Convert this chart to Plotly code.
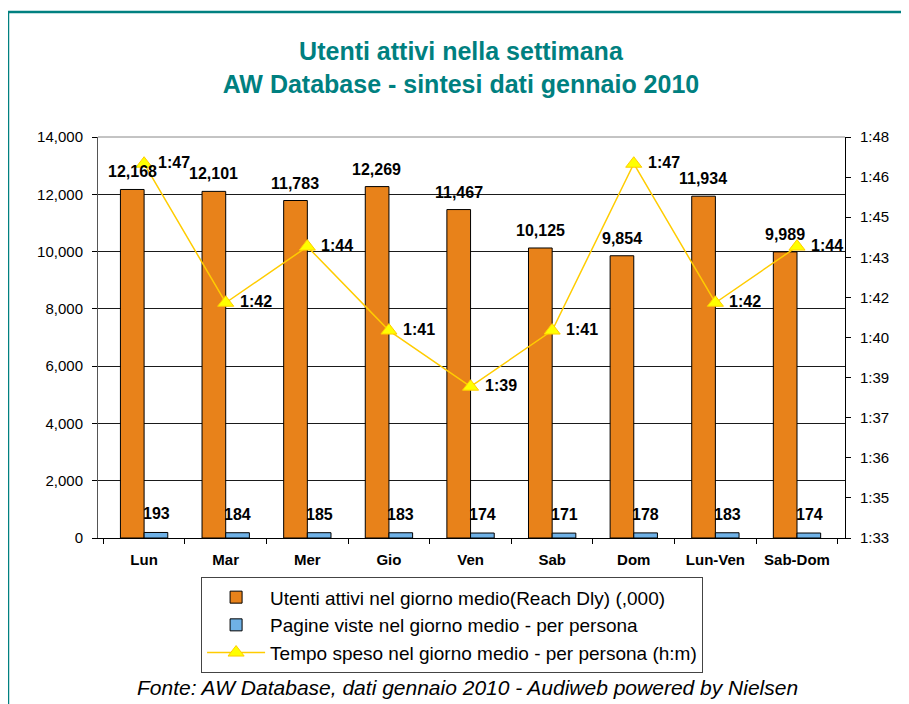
import plotly.graph_objects as go

categories = ["Lun", "Mar", "Mer", "Gio", "Ven", "Sab", "Dom", "Lun-Ven", "Sab-Dom"]
utenti = [12168, 12101, 11783, 12269, 11467, 10125, 9854, 11934, 9989]
pagine = [193, 184, 185, 183, 174, 171, 178, 183, 174]
tempo_min = [107.0, 101.8, 103.9, 100.76, 98.66, 100.76, 107.0, 101.8, 103.9]
tempo_labels = ["1:47", "1:42", "1:44", "1:41", "1:39", "1:41", "1:47", "1:42", "1:44"]
right_tick_vals = [93, 94.5, 96, 97.5, 99, 100.5, 102, 103.5, 105, 106.5, 108]
right_tick_text = ["1:33", "1:35", "1:36", "1:37", "1:39", "1:40", "1:42", "1:43", "1:45", "1:46", "1:48"]

FONT = "Liberation Sans, Arial, sans-serif"
ORANGE = "#E8821A"
BLUE = "#6FB1E6"
TEAL = "#008080"

fig = go.Figure()
fig.add_trace(go.Bar(
    x=categories, y=utenti, name="Utenti attivi nel giorno medio(Reach Dly) (,000)",
    marker=dict(color=ORANGE, line=dict(color="#000000", width=1)),
))
fig.add_trace(go.Bar(
    x=categories, y=pagine, name="Pagine viste nel giorno medio - per persona",
    marker=dict(color=BLUE, line=dict(color="#000000", width=1)),
))
fig.add_trace(go.Scatter(
    x=categories, y=tempo_min, yaxis="y2", mode="lines+markers",
    name="Tempo speso nel giorno medio - per persona (h:m)",
    line=dict(color="#FFCC00", width=1.5),
    marker=dict(symbol="triangle-up", size=14, color="#FFFF00", line=dict(color="#FFCC00", width=1)),
))

annotations = []
for c, v in zip(categories, utenti):
    annotations.append(dict(x=c, y=v, xref="x", yref="y", text=f"<b>{v:,}</b>", showarrow=False,
                            xshift=-12, yshift=7, yanchor="bottom",
                            font=dict(family=FONT, size=16, color="#000000")))
for c, v in zip(categories, pagine):
    annotations.append(dict(x=c, y=v, xref="x", yref="y", text=f"<b>{v:,}</b>", showarrow=False,
                            xshift=12, yshift=8, yanchor="bottom",
                            font=dict(family=FONT, size=16, color="#000000")))
for c, v, t in zip(categories, tempo_min, tempo_labels):
    annotations.append(dict(x=c, y=v, xref="x", yref="y2", text=f"<b>{t}</b>", showarrow=False,
                            xshift=12, yshift=1, xanchor="left", yanchor="middle",
                            font=dict(family=FONT, size=16, color="#000000")))
annotations.append(dict(x=0.4946, y=-0.374, xref="paper", yref="paper", showarrow=False,
                        text="<i>Fonte: AW Database, dati gennaio 2010 - Audiweb powered by Nielsen</i>",
                        font=dict(family=FONT, size=21, color="#000000"), xanchor="center", yanchor="middle"))

fig.update_layout(
    template="none",
    width=909, height=704,
    margin=dict(l=90, r=72, t=129, b=174, autoexpand=False),
    paper_bgcolor="white", plot_bgcolor="white",
    font=dict(family=FONT, color="#000000"),
    title=dict(text="<b>Utenti attivi nella settimana<br>AW Database - sintesi dati gennaio 2010</b>",
               x=0.4983, xanchor="center", y=0.926, yanchor="middle", xref="container", yref="container",
               font=dict(family=FONT, size=25, color=TEAL)),
    barmode="group", bargap=0.42, bargroupgap=0,
    showlegend=True,
    legend=dict(x=0.138, y=-0.098, xanchor="left", yanchor="top", bgcolor="white",
                bordercolor="#444444", borderwidth=1, font=dict(family=FONT, size=19),
                tracegroupgap=0, itemwidth=58),
    xaxis=dict(type="category", showline=True, linecolor="#000000", linewidth=1,
               ticks="outside", ticklen=5, tickcolor="#000000", tickson="boundaries",
               tickfont=dict(family=FONT, size=15, weight="bold"), ticklabelstandoff=8,
               showgrid=False, mirror=False, automargin=False, zeroline=False),
    yaxis=dict(range=[0, 14000], dtick=2000, tickformat=",", showline=True, linecolor="#555555",
               ticks="outside", ticklen=5, tickcolor="#000000", showgrid=True, gridcolor="#1a1a1a",
               gridwidth=1, tickfont=dict(family=FONT, size=15), zeroline=False, ticklabelstandoff=6,
               automargin=False),
    yaxis2=dict(range=[93, 108], overlaying="y", side="right", tickvals=right_tick_vals,
                ticktext=right_tick_text, showline=True, linecolor="#000000", ticks="outside",
                ticklen=5, tickcolor="#000000", showgrid=False, zeroline=False,
                tickfont=dict(family=FONT, size=15), ticklabelstandoff=6, automargin=False),
    annotations=annotations,
    shapes=[
        dict(type="rect", xref="paper", yref="paper", x0=-0.1205, x1=1.10, y0=-0.46, y1=1.3117,
             line=dict(color=TEAL, width=2.5), fillcolor="rgba(0,0,0,0)", layer="below"),
        dict(type="line", xref="paper", yref="paper", x0=0, x1=1, y0=1, y1=1,
             line=dict(color="#888888", width=1)),
    ],
)

fig.write_html("out.html")
